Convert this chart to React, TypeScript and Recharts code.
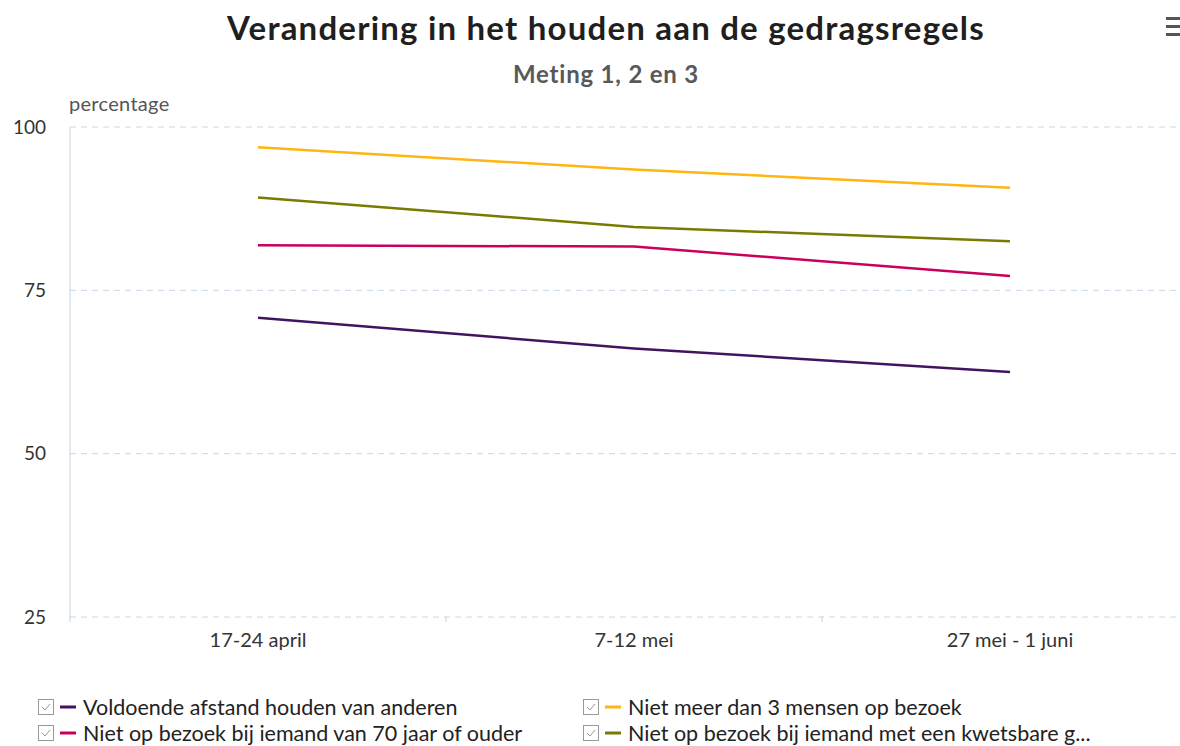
import React from "react";
import {CartesianGrid, Line, LineChart, XAxis, YAxis} from "recharts";

const categories = ['17-24 april', '7-12 mei', '27 mei - 1 juni'];
const afstandHouden = [70.8, 66.1, 62.5];
const maxDrieBezoek = [96.9, 93.5, 90.7];
const zeventigPlus = [81.9, 81.7, 77.2];
const kwetsbareGezondheid = [89.2, 84.7, 82.5];
const yTicks = [25, 50, 75, 100];

const series = [
    {key: 'afstand', name: 'Voldoende afstand houden van anderen', color: '#42145f', values: afstandHouden},
    {key: 'drie', name: 'Niet meer dan 3 mensen op bezoek', color: '#ffb612', values: maxDrieBezoek},
    {key: 'zeventig', name: 'Niet op bezoek bij iemand van 70 jaar of ouder', color: '#ca005d', values: zeventigPlus},
    {key: 'kwetsbaar', name: 'Niet op bezoek bij iemand met een kwetsbare g...', color: '#777c00', values: kwetsbareGezondheid},
];

const data = categories.map((cat, i) => {
    const row: Record<string, string | number> = {cat};
    series.forEach(s => row[s.key] = s.values[i]);
    return row;
});

const font = 'Lato, "Open Sans", sans-serif';

// category label plus a small tick mark on the boundary between categories
function CategoryTick(props: any) {
    const {x, y, payload} = props;
    const half = payload.offset || 0;
    return (
        <g>
            <line x1={x - half} x2={x - half} y1={y - 17} y2={y - 11} stroke="#c4d4e4"/>
            <text x={x} y={y} dy="0.71em" textAnchor="middle" fill="#333" fontSize={20} fontFamily={font}>
                {payload.value}
            </text>
        </g>
    );
}

function Overlay() {
    return (
        <svg width={1180} height={746} style={{position: 'absolute', left: 0, top: 0, pointerEvents: 'none'}}
             fontFamily={font}>
            <text x={606} y={40} textAnchor="middle" fontSize={33} fontWeight={700} fill="#1f1f1f"
                  letterSpacing={1.2}>
                Verandering in het houden aan de gedragsregels
            </text>
            <text x={606} y={83} textAnchor="middle" fontSize={24} fontWeight={700} fill="#58595b"
                  letterSpacing={0.8}>
                Meting 1, 2 en 3
            </text>
            <text x={69} y={111} fontSize={20} fill="#555" letterSpacing={0.3}>percentage</text>
            <g fill="#555">
                <rect x={1166} y={17} width={14} height={3}/>
                <rect x={1166} y={25} width={14} height={3}/>
                <rect x={1166} y={33} width={14} height={3}/>
            </g>
            {series.map((s, i) => {
                const col = i % 2;
                const row = Math.floor(i / 2);
                const x0 = col === 0 ? 38 : 583;
                const cy = 707 + row * 26;
                return (
                    <g key={s.key}>
                        <rect x={x0 + 0.5} y={cy - 7.5} width={15} height={15} fill="#fff" stroke="#999"/>
                        <polyline points={`${x0 + 4},${cy} ${x0 + 7},${cy + 3} ${x0 + 12},${cy - 3}`}
                                  fill="none" stroke="#999" strokeWidth={1}/>
                        <line x1={x0 + 22} x2={x0 + 38} y1={cy} y2={cy} stroke={s.color} strokeWidth={3}/>
                        <text x={x0 + 45} y={cy + 8} fontSize={21.5} fill="#222">{s.name}</text>
                    </g>
                );
            })}
        </svg>
    );
}

export default function App() {
    return (
        <div style={{position: 'absolute', left: 0, top: 0, width: 1180, height: 746, overflow: 'hidden', background: '#fff'}}>
            <LineChart width={1200} height={746} data={data}
                       margin={{top: 127, right: 2, left: 0, bottom: 89}}>
                <CartesianGrid vertical={false} stroke="#c8d8e8" strokeDasharray="6 5"/>
                <XAxis dataKey="cat" scale="band" axisLine={false} tickLine={false} height={40} tickMargin={0}
                       tickSize={16} tick={<CategoryTick/>} interval={0}/>
                <YAxis domain={[25, 100]} ticks={yTicks} width={70} tickLine={false} tickSize={0} tickMargin={24}
                       axisLine={{stroke: '#c4d4e4'}}
                       tick={{fill: '#333', fontSize: 19, fontFamily: font}}/>
                {series.map(s => (
                    <Line key={s.key} dataKey={s.key} name={s.name} stroke={s.color} strokeWidth={2.5}
                          dot={false} activeDot={false} isAnimationActive={false} type="linear"/>
                ))}
            </LineChart>
            <Overlay/>
        </div>
    );
}
